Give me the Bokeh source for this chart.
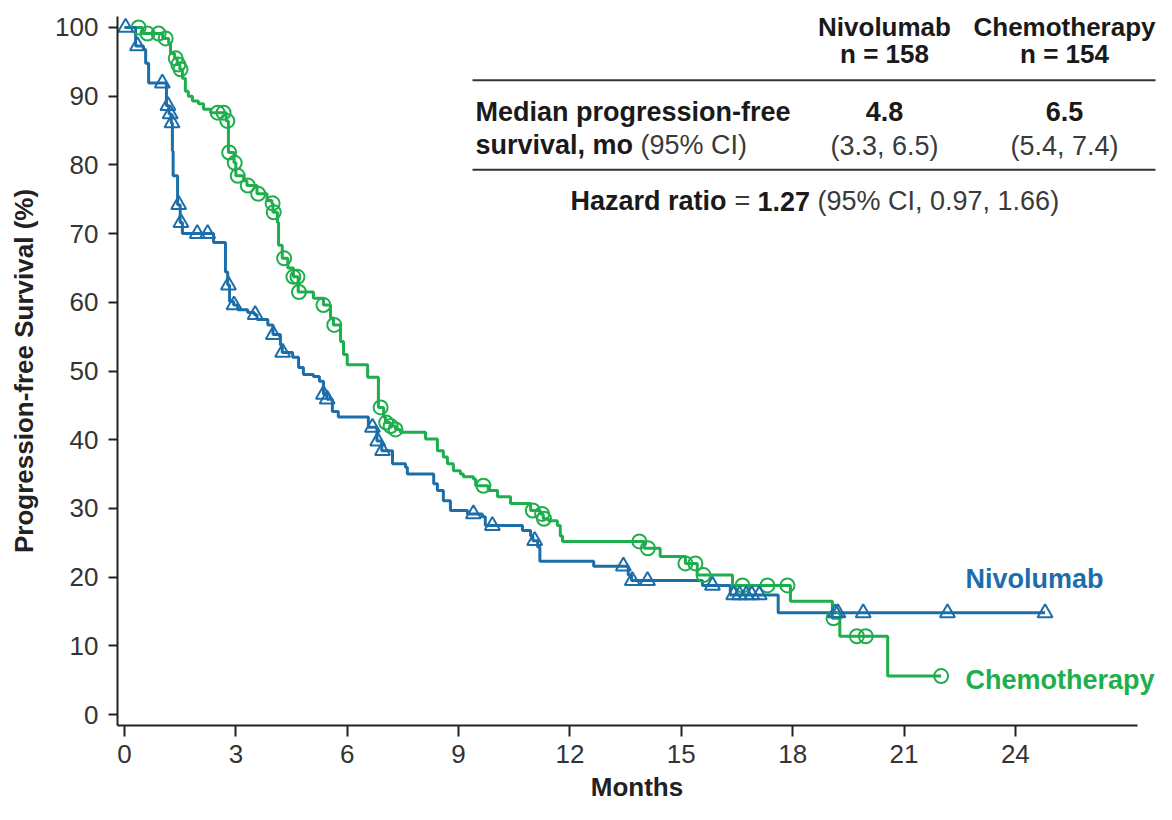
import numpy as np
from bokeh.plotting import figure
from bokeh.models import Label, Arrow, FixedTicker
from bokeh.embed import file_html
from bokeh.resources import INLINE

# ---------------- data ----------------
# Nivolumab: event times (months) and survival (%) after each event
nivo_t = [0.30, 0.51, 0.57, 0.65, 1.13, 1.20, 1.26, 1.29, 1.31, 1.43, 1.50, 1.56, 2.40,
          2.72, 2.78, 2.83, 2.94, 3.05, 3.32, 3.50, 3.57, 3.86, 4.00, 4.20, 4.25, 4.53,
          4.69, 4.82, 5.09, 5.25, 5.36, 5.45, 5.60, 5.76, 6.57, 6.80, 6.93, 7.22, 7.57,
          7.62, 8.33, 8.43, 8.59, 8.78, 9.24, 9.64, 9.72, 10.72, 10.94, 11.00, 11.13,
          11.19, 12.64, 13.57, 13.66, 15.57, 16.32, 17.61]
nivo_s = [97.3, 96.8, 94.8, 91.9, 88.6, 87.4, 86.1, 82.0, 78.4, 74.2, 71.6, 70.0, 68.7,
          64.4, 62.5, 60.1, 59.6, 58.9, 58.5, 58.2, 57.5, 56.7, 55.3, 53.8, 52.7, 52.0,
          50.5, 49.5, 49.2, 48.5, 46.6, 45.9, 44.1, 43.3, 41.8, 39.8, 38.4, 36.5, 36.0,
          35.0, 33.6, 32.6, 31.1, 29.7, 29.2, 28.8, 27.5, 26.8, 26.0, 25.3, 24.4,
          22.3, 21.6, 20.3, 19.5, 18.8, 17.4, 14.8]
nivo_censor = [0.03, 0.35, 1.02, 1.17, 1.23, 1.28, 1.46, 1.52, 1.96, 2.24, 2.80, 2.95,
               3.52, 4.01, 4.26, 5.36, 5.46, 6.68, 6.82, 6.95, 9.40, 9.91, 11.05, 13.44,
               13.68, 14.09, 15.84, 16.41, 16.57, 16.75, 16.90, 17.10, 19.15, 19.22,
               19.90, 22.17, 24.80]

# Chemotherapy
chemo_t = [0.49, 1.03, 1.19, 1.24, 1.35, 1.42, 1.49, 1.56, 1.64, 1.72, 1.83, 1.99, 2.13,
           2.32, 2.74, 2.80, 2.95, 3.00, 3.21, 3.30, 3.57, 3.84, 3.97, 4.00, 4.12, 4.15,
           4.25, 4.40, 4.55, 4.68, 5.09, 5.36, 5.55, 5.63, 5.82, 5.90, 6.00, 6.55, 6.84,
           6.98, 7.03, 7.16, 7.30, 7.43, 8.11, 8.43, 8.59, 8.70, 8.86, 9.05, 9.13, 9.40,
           9.46, 9.80, 10.05, 10.40, 10.94, 11.20, 11.28, 11.42, 11.66, 11.74, 11.80,
           14.00, 14.43, 15.11, 15.43, 16.38, 17.94, 19.07, 19.27, 20.56]
chemo_s = [99.1, 98.4, 97.7, 96.2, 95.5, 94.6, 93.9, 92.6, 90.7, 90.0, 89.3, 88.9, 88.1,
           87.6, 86.4, 81.8, 80.3, 78.4, 77.7, 77.0, 75.8, 74.8, 74.4, 73.1, 71.6, 68.3,
           66.4, 65.0, 63.7, 61.5, 60.6, 59.6, 57.7, 56.7, 54.3, 52.4, 50.9, 49.1, 44.7,
           43.3, 42.5, 42.0, 41.5, 41.1, 40.1, 38.4, 37.5, 36.5, 35.5, 35.0, 34.6, 34.3,
           33.3, 32.6, 31.7, 30.7, 29.7, 29.2, 28.5, 28.2, 27.5, 26.0, 25.2,
           24.2, 23.0, 22.0, 20.3, 18.8, 16.5, 14.0, 11.4, 5.6]
chemo_censor = [0.38, 0.62, 0.92, 1.11, 1.38, 1.45, 1.51, 2.51, 2.67, 2.77, 2.82, 2.97,
                3.05, 3.32, 3.60, 3.99, 4.02, 4.30, 4.55, 4.66, 4.70, 5.36, 5.65, 6.90,
                7.05, 7.17, 7.30, 9.67, 11.00, 11.25, 11.30, 13.87, 14.10, 15.11, 15.38,
                15.60, 16.65, 17.32, 17.86, 19.10, 19.73, 19.97, 22.00]

x_ticks = [0, 3, 6, 9, 12, 15, 18, 21, 24]
y_ticks = [0, 10, 20, 30, 40, 50, 60, 70, 80, 90, 100]

arm_names = ["Nivolumab", "Chemotherapy"]
arm_n = ["n = 158", "n = 154"]
arm_median = ["4.8", "6.5"]
arm_ci = ["(3.3, 6.5)", "(5.4, 7.4)"]
hr_parts = ["Hazard ratio", "=", "1.27", "(95% CI, 0.97, 1.66)"]

# ---------------- styles ----------------
BLUE = "#1c6eaa"
GREEN = "#1fae4d"
FONT = "Liberation Sans"
DARK = "#1a1a1a"
GRAY = "#3a3a3a"

PX_PER_MONTH = 37.12
PX_PER_PCT = 6.91
LEFT, TOP, BOTTOM_BORDER = 117, 16, 75
W, H = 1156, 804
AXIS_RIGHT_PX = 1137
ZERO_X_PX = 124
frame_h = H - TOP - BOTTOM_BORDER
ZERO_Y_PX = TOP + frame_h - 11

X0 = -(ZERO_X_PX - LEFT) / PX_PER_MONTH
X1 = X0 + (W - LEFT) / PX_PER_MONTH
XAX_END = X0 + (AXIS_RIGHT_PX - LEFT) / PX_PER_MONTH
Y0 = -11 / PX_PER_PCT
Y1 = Y0 + frame_h / PX_PER_PCT


def km_path(t, s, end):
    xs = [0.0] + list(t) + [end]
    ys = [100.0] + list(s) + [s[-1]]
    return xs, ys


def at(t, s, c):
    tt = np.array([0.0] + list(t))
    ss = np.array([100.0] + list(s))
    idx = np.searchsorted(tt, np.array(c), side="right") - 1
    return ss[idx]


p = figure(width=W, height=H, x_range=(X0, X1), y_range=(Y0, Y1),
           output_backend="svg", toolbar_location=None,
           min_border_left=LEFT, min_border_right=0, min_border_top=TOP,
           min_border_bottom=BOTTOM_BORDER)
p.outline_line_color = None
p.grid.visible = False
p.background_fill_color = "white"
p.border_fill_color = "white"

for ax in (p.xaxis[0], p.yaxis[0]):
    ax.axis_line_width = 2
    ax.axis_line_color = "#222222"
    ax.major_tick_line_color = "#222222"
    ax.major_tick_line_width = 2
    ax.minor_tick_line_color = None
    ax.major_tick_in = 0
    ax.major_label_text_font = FONT
    ax.major_label_text_font_size = "26px"
    ax.major_label_text_color = "#333333"
    ax.axis_label_text_font = FONT
    ax.axis_label_text_font_size = "26px"
    ax.axis_label_text_font_style = "bold"
    ax.axis_label_text_color = "#222222"

p.xaxis.bounds = (X0, XAX_END)
p.xaxis.ticker = FixedTicker(ticks=x_ticks)
p.yaxis.ticker = FixedTicker(ticks=y_ticks)
p.xaxis.major_tick_out = 11
p.yaxis.major_tick_out = 9
p.xaxis.major_label_standoff = 8
p.yaxis.major_label_standoff = 10
p.xaxis.axis_label = "Months"
p.yaxis.axis_label = "Progression-free Survival (%)"
p.xaxis.axis_label_standoff = 6
p.yaxis.axis_label_standoff = 13

# curves
nx, ny = km_path(nivo_t, nivo_s, nivo_censor[-1])
cx, cy = km_path(chemo_t, chemo_s, chemo_censor[-1])
p.step(cx, cy, mode="after", line_color=GREEN, line_width=3)
p.step(nx, ny, mode="after", line_color=BLUE, line_width=3)

p.scatter(chemo_censor, at(chemo_t, chemo_s, chemo_censor), marker="circle", size=14,
          fill_color=None, line_color=GREEN, line_width=2)
p.scatter(nivo_censor, at(nivo_t, nivo_s, nivo_censor), marker="triangle", size=15,
          fill_color=None, line_color=BLUE, line_width=2)


# ---------------- annotations (positions in canvas pixels) ----------------
def dx(px):
    return (px - ZERO_X_PX) / PX_PER_MONTH


def dy(py):
    return (ZERO_Y_PX - py) / PX_PER_PCT


def lab(text, px, py, align="left", bold=True, color=DARK, size="27px"):
    p.add_layout(Label(x=dx(px), y=dy(py), text=text, text_align=align,
                       text_baseline="middle", text_font=FONT, text_font_size=size,
                       text_font_style="bold" if bold else "normal",
                       text_color=color))


def rule(py, x_start=472, x_end=1155):
    p.add_layout(Arrow(x_start=dx(x_start), y_start=dy(py), x_end=dx(x_end), y_end=dy(py),
                       end=None, start=None, line_color="#333333", line_width=2))


col_x = [884, 1064]
for i in range(2):
    lab(arm_names[i], col_x[i], 27, align="center", size="26px")
    lab(arm_n[i], col_x[i], 54, align="center", size="26px")
    lab(arm_median[i], col_x[i], 112, align="center")
    lab(arm_ci[i], col_x[i], 146, align="center", bold=False, color=GRAY)

rule(80)
rule(170)
lab("Median progression-free", 475, 112)
lab("survival, mo", 475, 145)
lab("(95% CI)", 640, 145, bold=False, color=GRAY)

lab(hr_parts[0], 570, 202)
lab(hr_parts[1], 734, 202, bold=False, color=GRAY)
lab(hr_parts[2], 757, 202)
lab(hr_parts[3], 817, 202, bold=False, color=GRAY)

lab(arm_names[0], 965, 582, color=BLUE)
lab(arm_names[1], 965, 683, color=GREEN)

open("out.html", "w").write(file_html(p, INLINE))
